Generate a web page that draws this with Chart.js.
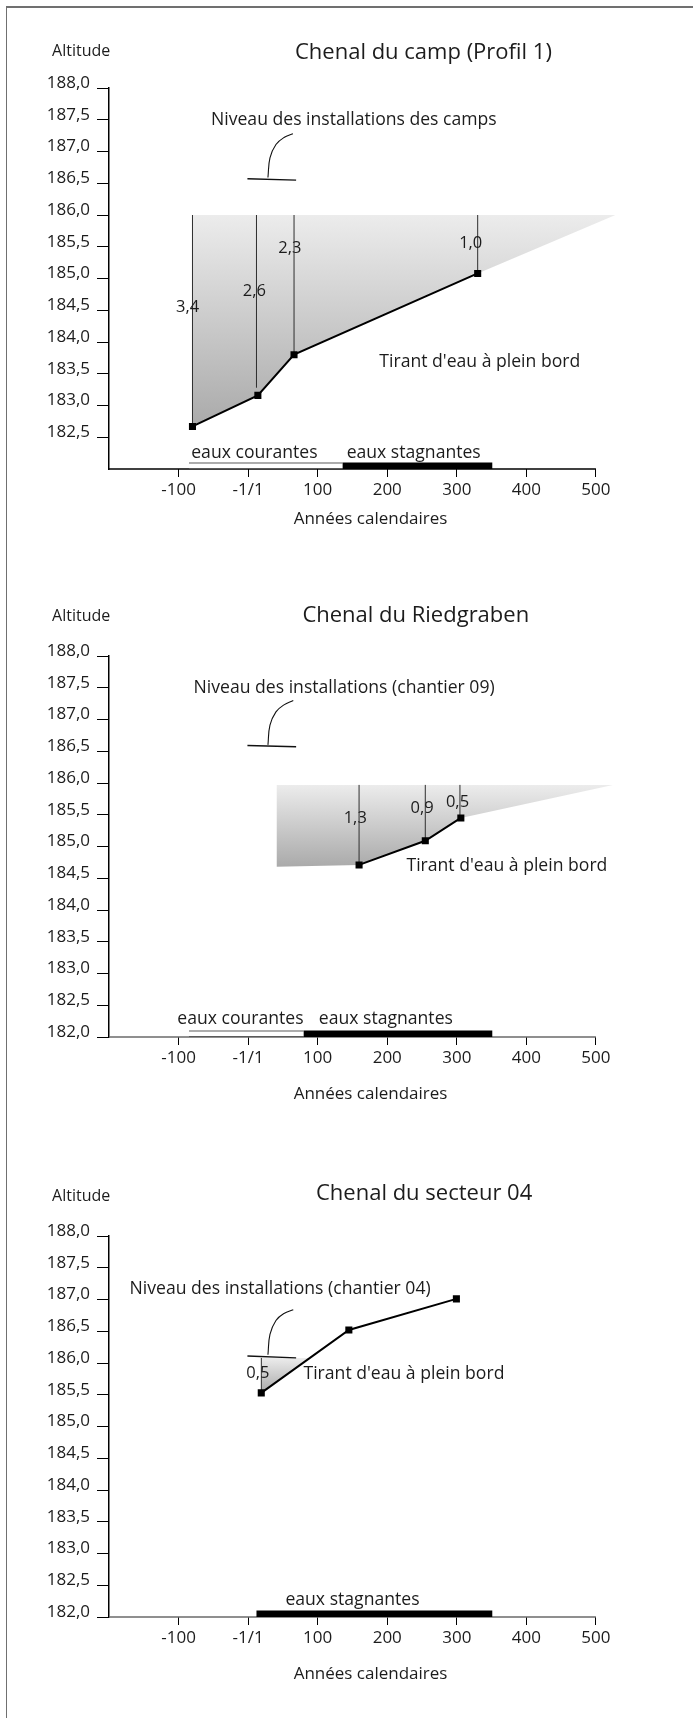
<!DOCTYPE html>
<html>
<head>
<meta charset="utf-8">
<script src="https://cdn.jsdelivr.net/npm/chart.js@4.4.1/dist/chart.umd.min.js"></script>
<style>
  html, body { margin: 0; padding: 0; background: #fff; }
  body { width: 693px; height: 1718px; position: relative; overflow: hidden; }
  .frame { position: absolute; left: 6px; top: 6px; right: 0; bottom: 0;
           border-top: 2px solid #707070; border-left: 1px solid #707070; }
  .panel { position: absolute; left: 0; width: 693px; height: 570px; }
  .panel canvas { display: block; }
</style>
</head>
<body>
<div class="frame"></div>
<div class="panel" style="top:0"><canvas id="campChart" width="693" height="570"></canvas></div>
<div class="panel" style="top:568px"><canvas id="riedChart" width="693" height="570"></canvas></div>
<div class="panel" style="top:1148px"><canvas id="sectChart" width="693" height="570"></canvas></div>

<script>
/* ============================================
   CHENAUX — profils d'altitude (Chart.js)
   ============================================ */

// -- Shared axes --
var X_MIN = -200, X_AXIS_END = 500, X_MAX = 530;
var Y_MIN = 182, Y_MAX = 188;
var X_TICKS = [-100, 0, 100, 200, 300, 400, 500];
var X_TICK_LABELS = ['-100', '-1/1', '100', '200', '300', '400', '500'];
var Y_TICKS = [182.0, 182.5, 183.0, 183.5, 184.0, 184.5, 185.0, 185.5, 186.0, 186.5, 187.0, 187.5, 188.0];
var Y_TICKS_CAMP = [182.5, 183.0, 183.5, 184.0, 184.5, 185.0, 185.5, 186.0, 186.5, 187.0, 187.5, 188.0];
var BAR_Y = 182.05;

// -- 1. Chenal du camp (Profil 1) --
var CAMP_TITLE = 'Chenal du camp (Profil 1)';
var CAMP_PROFILE_X = [-80, 14, 66, 330];
var CAMP_PROFILE_Y = [182.67, 183.16, 183.80, 185.08];
var CAMP_SHADE_X = [-80, 14, 66, 330, 528];
var CAMP_SHADE_Y = [182.67, 183.16, 183.80, 185.08, 186.0];
var CAMP_SHADE_TOP = 186.0;
var CAMP_DEPTH_X = [-80, 12, 66, 330];
var CAMP_DEPTH_Y = [182.67, 183.28, 183.80, 185.08];
var CAMP_DEPTH_LABELS = ['3,4', '2,6', '2,3', '1,0'];
var CAMP_LEVEL_X = [-1, 69];
var CAMP_LEVEL_Y = [186.57, 186.55];
var CAMP_LEADER_X = [28.5, 31.4, 40, 51.5, 64.4];
var CAMP_LEADER_Y = [186.59, 186.90, 187.11, 187.22, 187.28];
var CAMP_FLOWING = [-85, 136];
var CAMP_STANDING = [136, 351];

// -- 2. Chenal du Riedgraben --
var RIED_TITLE = 'Chenal du Riedgraben';
var RIED_PROFILE_X = [159.5, 254.7, 305.8];
var RIED_PROFILE_Y = [184.71, 185.09, 185.45];
var RIED_SHADE_X = [40.6, 159.5, 254.7, 305.8, 525];
var RIED_SHADE_Y = [184.68, 184.71, 185.09, 185.45, 185.97];
var RIED_SHADE_TOP = 185.97;
var RIED_DEPTH_X = [159.5, 254.7, 304.5];
var RIED_DEPTH_Y = [184.71, 185.09, 185.45];
var RIED_DEPTH_LABELS = ['1,3', '0,9', '0,5'];
var RIED_LEVEL_X = [-1, 69];
var RIED_LEVEL_Y = [186.59, 186.57];
var RIED_LEADER_X = [28.5, 31.4, 40, 51.5, 64.9];
var RIED_LEADER_Y = [186.60, 186.91, 187.12, 187.23, 187.30];
var RIED_FLOWING = [-85, 80];
var RIED_STANDING = [80, 351];

// -- 3. Chenal du secteur 04 --
var SECT_TITLE = 'Chenal du secteur 04';
var SECT_PROFILE_X = [18.9, 144.8, 299.4];
var SECT_PROFILE_Y = [185.53, 186.52, 187.01];
var SECT_SHADE_X = [18.9, 144.8];
var SECT_SHADE_Y = [185.53, 186.52];
var SECT_SHADE_TOP = 186.08;
var SECT_DEPTH_X = [19];
var SECT_DEPTH_Y = [185.53];
var SECT_DEPTH_LABELS = ['0,5'];
var SECT_LEVEL_X = [-1, 69];
var SECT_LEVEL_Y = [186.11, 186.08];
var SECT_LEADER_X = [28.5, 31.4, 40, 51.5, 64.9];
var SECT_LEADER_Y = [186.13, 186.45, 186.67, 186.78, 186.84];
var SECT_FLOWING = null;
var SECT_STANDING = [12, 351];

(function () {
  'use strict';

  var FONT = "'Open Sans', 'Noto Sans', sans-serif";
  var INK = '#1c1c1c';
  var LABEL_SIZE = 17.6;

  Chart.defaults.font.family = FONT;
  Chart.defaults.color = INK;

  function pts(xs, ys) {
    return xs.map(function (x, i) { return { x: x, y: ys[i] }; });
  }

  function comma(v) {
    return Number(v).toFixed(1).replace('.', ',');
  }

  // vertical grey gradient over the shaded water body
  function shadeGradient(top, bottom) {
    return function (context) {
      var chart = context.chart;
      if (!chart.chartArea) return 'rgba(0,0,0,0)';
      var y = chart.scales.y;
      var g = chart.ctx.createLinearGradient(0, y.getPixelForValue(top), 0, y.getPixelForValue(bottom));
      g.addColorStop(0, '#ececec');
      g.addColorStop(1, '#aaaaaa');
      return g;
    };
  }

  // -- Texts + x baseline (only up to 500) --
  var notesPlugin = {
    id: 'notes',
    beforeDatasetsDraw: function (chart, args, opts) {
      var x = chart.scales.x, y = chart.scales.y, ctx = chart.ctx;
      ctx.save();
      ctx.strokeStyle = opts.axisColor;
      ctx.lineWidth = 1.5;
      ctx.beginPath();
      ctx.moveTo(x.getPixelForValue(X_MIN), y.getPixelForValue(Y_MIN));
      ctx.lineTo(x.getPixelForValue(X_AXIS_END), y.getPixelForValue(Y_MIN));
      ctx.stroke();
      ctx.restore();
    },
    afterDraw: function (chart, args, opts) {
      var x = chart.scales.x, y = chart.scales.y, ctx = chart.ctx;
      ctx.save();
      ctx.fillStyle = INK;
      ctx.textAlign = 'center';
      ctx.textBaseline = 'middle';
      opts.items.forEach(function (n) {
        ctx.font = (n.size || LABEL_SIZE) + 'px ' + FONT;
        ctx.fillText(n.text, x.getPixelForValue(n.x), y.getPixelForValue(n.y));
      });
      ctx.restore();
    }
  };

  function lineSet(data, color, width, order, extra) {
    return Object.assign({
      data: data,
      borderColor: color,
      borderWidth: width,
      pointRadius: 0,
      fill: false,
      tension: 0,
      borderCapStyle: 'butt',
      order: order
    }, extra || {});
  }

  function makePanel(id, p) {
    var ds = [];

    ds.push({
      data: pts(p.shadeX, p.shadeY),
      borderWidth: 0,
      pointRadius: 0,
      backgroundColor: shadeGradient(p.shadeTop, Math.min.apply(null, p.shadeY)),
      fill: { target: { value: p.shadeTop }, above: 'rgba(0,0,0,0)' },
      order: 50
    });

    p.depthX.forEach(function (dx, i) {
      ds.push(lineSet(pts([dx, dx], [p.depthY[i], p.shadeTop]), '#2e2e2e', 1, 40));
    });

    ds.push(lineSet(pts(p.levelX, p.levelY), '#111', 1.4, 30));
    ds.push(lineSet(pts(p.leaderX, p.leaderY), '#111', 1.1, 30, { tension: 0.4 }));

    if (p.flowing) {
      ds.push(lineSet(pts(p.flowing, [BAR_Y, BAR_Y]), '#5a5a5a', 6.5, 22));
      ds.push(lineSet(pts(p.flowing, [BAR_Y, BAR_Y]), '#ffffff', 4.5, 21));
    }
    ds.push(lineSet(pts(p.standing, [BAR_Y, BAR_Y]), '#000', 6.5, 20));

    ds.push(lineSet(pts(p.profileX, p.profileY), '#000', 2, 0, {
      pointRadius: 5,
      pointStyle: 'rect',
      pointBackgroundColor: '#000',
      pointBorderWidth: 0
    }));

    var items = p.notes.slice();
    p.depthLabels.forEach(function (t, i) {
      items.push({ text: t, x: p.depthLabelX[i], y: p.depthLabelY[i], size: 16.5 });
    });

    new Chart(document.getElementById(id), {
      type: 'line',
      data: { datasets: ds },
      options: {
        responsive: false,
        devicePixelRatio: 1,
        animation: false,
        layout: { padding: { top: 88, right: 76.2, bottom: 0, left: 0 } },
        plugins: {
          legend: { display: false },
          tooltip: { enabled: false },
          notes: { items: items, axisColor: p.axisColor }
        },
        scales: {
          x: {
            type: 'linear',
            min: X_MIN,
            max: X_MAX,
            border: { display: false },
            grid: { drawOnChartArea: false, tickLength: 8, color: '#000', lineWidth: 1 },
            ticks: {
              padding: 3,
              autoSkip: false,
              maxRotation: 0,
              font: { size: 17 },
              callback: function (v) {
                var i = X_TICKS.indexOf(v);
                return i < 0 ? '' : X_TICK_LABELS[i];
              }
            },
            afterBuildTicks: function (s) {
              s.ticks = X_TICKS.map(function (v) { return { value: v }; });
            },
            afterFit: function (s) { s.height = 101; }
          },
          y: {
            type: 'linear',
            min: Y_MIN,
            max: Y_MAX,
            border: { display: true, color: '#000', width: 1.5 },
            grid: { drawOnChartArea: false, tickLength: 12, color: '#000', lineWidth: 1 },
            ticks: { padding: 7, labelOffset: -5, font: { size: 17 }, callback: comma },
            afterBuildTicks: function (s) {
              s.ticks = p.yTicks.map(function (v) { return { value: v }; });
            },
            afterFit: function (s) { s.width = 109; }
          }
        }
      },
      plugins: [notesPlugin]
    });
  }

  document.addEventListener('DOMContentLoaded', function () {
    makePanel('campChart', {
      yTicks: Y_TICKS_CAMP,
      axisColor: '#000',
      profileX: CAMP_PROFILE_X, profileY: CAMP_PROFILE_Y,
      shadeX: CAMP_SHADE_X, shadeY: CAMP_SHADE_Y, shadeTop: CAMP_SHADE_TOP,
      depthX: CAMP_DEPTH_X, depthY: CAMP_DEPTH_Y, depthLabels: CAMP_DEPTH_LABELS,
      depthLabelX: [-87, 9, 60, 320], depthLabelY: [184.54, 184.80, 185.47, 185.56],
      levelX: CAMP_LEVEL_X, levelY: CAMP_LEVEL_Y,
      leaderX: CAMP_LEADER_X, leaderY: CAMP_LEADER_Y,
      flowing: CAMP_FLOWING, standing: CAMP_STANDING,
      notes: [
        { text: CAMP_TITLE, x: 252, y: 188.556, size: 22 },
        { text: 'Altitude', x: -240, y: 188.572, size: 16 },
        { text: 'Niveau des installations des camps', x: 152, y: 187.49 },
        { text: "Tirant d'eau à plein bord", x: 333, y: 183.68 },
        { text: 'eaux courantes', x: 9, y: 182.26 },
        { text: 'eaux stagnantes', x: 238, y: 182.26 },
        { text: 'Années calendaires', x: 176, y: 181.21, size: 17 }
      ]
    });

    makePanel('riedChart', {
      yTicks: Y_TICKS,
      axisColor: '#6a6a6a',
      profileX: RIED_PROFILE_X, profileY: RIED_PROFILE_Y,
      shadeX: RIED_SHADE_X, shadeY: RIED_SHADE_Y, shadeTop: RIED_SHADE_TOP,
      depthX: RIED_DEPTH_X, depthY: RIED_DEPTH_Y, depthLabels: RIED_DEPTH_LABELS,
      depthLabelX: [154, 250, 301], depthLabelY: [185.45, 185.60, 185.70],
      levelX: RIED_LEVEL_X, levelY: RIED_LEVEL_Y,
      leaderX: RIED_LEADER_X, leaderY: RIED_LEADER_Y,
      flowing: RIED_FLOWING, standing: RIED_STANDING,
      notes: [
        { text: RIED_TITLE, x: 241, y: 188.640, size: 22 },
        { text: 'Altitude', x: -240, y: 188.629, size: 16 },
        { text: 'Niveau des installations (chantier 09)', x: 138, y: 187.50 },
        { text: "Tirant d'eau à plein bord", x: 372, y: 184.69 },
        { text: 'eaux courantes', x: -11, y: 182.29 },
        { text: 'eaux stagnantes', x: 198, y: 182.29 },
        { text: 'Années calendaires', x: 176, y: 181.105, size: 17 }
      ]
    });

    makePanel('sectChart', {
      yTicks: Y_TICKS,
      axisColor: '#6a6a6a',
      profileX: SECT_PROFILE_X, profileY: SECT_PROFILE_Y,
      shadeX: SECT_SHADE_X, shadeY: SECT_SHADE_Y, shadeTop: SECT_SHADE_TOP,
      depthX: SECT_DEPTH_X, depthY: SECT_DEPTH_Y, depthLabels: SECT_DEPTH_LABELS,
      depthLabelX: [14], depthLabelY: [185.83],
      levelX: SECT_LEVEL_X, levelY: SECT_LEVEL_Y,
      leaderX: SECT_LEADER_X, leaderY: SECT_LEADER_Y,
      flowing: SECT_FLOWING, standing: SECT_STANDING,
      notes: [
        { text: SECT_TITLE, x: 253, y: 188.659, size: 22 },
        { text: 'Altitude', x: -240, y: 188.622, size: 16 },
        { text: 'Niveau des installations (chantier 04)', x: 46, y: 187.16 },
        { text: "Tirant d'eau à plein bord", x: 224, y: 185.83 },
        { text: 'eaux stagnantes', x: 150, y: 182.27 },
        { text: 'Années calendaires', x: 176, y: 181.106, size: 17 }
      ]
    });
  });
})();
</script>
</body>
</html>
